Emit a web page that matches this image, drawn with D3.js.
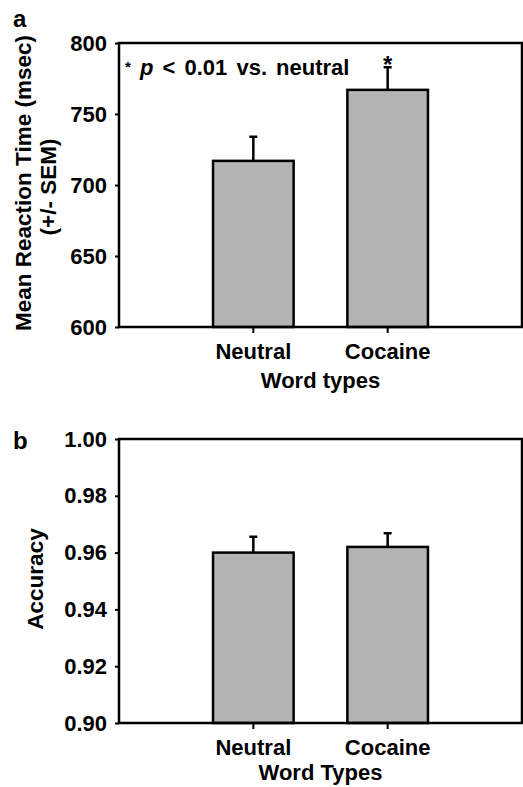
<!DOCTYPE html>
<html>
<head>
<meta charset="utf-8">
<script src="https://cdn.jsdelivr.net/npm/d3@7"></script>
<style>
  body { margin: 0; background: #fff; }
  svg text { font-family: "Liberation Sans", Arial, sans-serif; font-weight: bold; fill: #000; }
</style>
</head>
<body>
<div id="chart"></div>
<script>
// Data
const categories = ['Neutral', 'Cocaine']
const rt_means = [717, 767]
const rt_sem = [17, 16]
const rt_ticks = [600, 650, 700, 750, 800]
const acc_means = [0.960, 0.962]
const acc_sem = [0.0056, 0.0048]
const acc_ticks = [0.90, 0.92, 0.94, 0.96, 0.98, 1.00]

const W = 523
const H = 787
const bar_fill = '#b3b3b3'

let svg = d3.select('#chart')
  .append('svg')
  .attr('width', W)
  .attr('height', H)

////////////////////////////////////////////////////////////
// One bar panel
////////////////////////////////////////////////////////////

function draw_panel(cfg) {

  let left = 119, right = 522
  let x = d3.scaleBand()
    .domain(categories)
    .range([left, right])
    .paddingInner(0.4)
    .paddingOuter(0.7)

  let y = d3.scaleLinear()
    .domain(cfg.domain)
    .range([cfg.bottom, cfg.top])

  let g = svg.append('g')

  // Bars
  g.selectAll('rect.bar')
    .data(categories)
    .enter()
    .append('rect')
      .attr('class', 'bar')
      .attr('x', d => x(d))
      .attr('width', x.bandwidth())
      .attr('y', (d, i) => y(cfg.means[i]))
      .attr('height', (d, i) => cfg.bottom - y(cfg.means[i]))
      .attr('fill', bar_fill)
      .attr('stroke', '#000')
      .attr('stroke-width', 2.5)

  // Upper error bars
  let cap = 4
  g.selectAll('path.err')
    .data(categories)
    .enter()
    .append('path')
      .attr('class', 'err')
      .attr('d', (d, i) => {
        let cx = x(d) + x.bandwidth() / 2
        let y0 = y(cfg.means[i])
        let y1 = y(cfg.means[i] + cfg.sem[i])
        return `M${cx},${y0}V${y1}M${cx - cap},${y1}H${cx + cap}`
      })
      .attr('stroke', '#000')
      .attr('stroke-width', 2.5)
      .attr('fill', 'none')

  // Frame
  g.append('path')
    .attr('d', `M${left},${cfg.bottom}V${cfg.top}H${right}V${cfg.bottom}Z`)
    .attr('fill', 'none')
    .attr('stroke', '#000')
    .attr('stroke-width', 2.5)

  // Y axis
  let y_axis = g.append('g')
    .attr('transform', `translate(${left},0)`)
    .call(
      d3.axisLeft(y)
        .tickValues(cfg.ticks)
        .tickFormat(cfg.fmt)
        .tickSize(4)
        .tickPadding(8)
    )
  y_axis.select('.domain').remove()
  y_axis.selectAll('line').attr('stroke', '#000').attr('stroke-width', 2)
  y_axis.selectAll('text').style('font-size', '22px')

  // X axis
  let x_axis = g.append('g')
    .attr('transform', `translate(0,${cfg.bottom})`)
    .call(
      d3.axisBottom(x)
        .tickSize(6)
        .tickPadding(10)
    )
  x_axis.select('.domain').remove()
  x_axis.selectAll('line').attr('stroke', '#000').attr('stroke-width', 2)
  x_axis.selectAll('text').style('font-size', '22px')

  // X title, centred between the two categories
  let mid = (x(categories[0]) + x(categories[1]) + x.bandwidth()) / 2
  g.append('text')
    .attr('x', mid)
    .attr('y', cfg.bottom + cfg.x_title_gap)
    .attr('text-anchor', 'middle')
    .style('font-size', '22px')
    .text(cfg.x_title)

  // Y title lines
  cfg.y_title.forEach(line => {
    g.append('text')
      .attr('transform', `translate(${line.x},${line.cy}) rotate(-90)`)
      .attr('text-anchor', 'middle')
      .style('font-size', '22.5px')
      .text(line.text)
  })

  // Panel letter
  g.append('text')
    .attr('x', 13)
    .attr('y', cfg.letter_y)
    .style('font-size', '24px')
    .text(cfg.letter)

  return { x, y, g }
}

////////////////////////////////////////////////////////////
// Panel a: reaction time
////////////////////////////////////////////////////////////

let pa = draw_panel({
  top: 43,
  bottom: 327,
  domain: [600, 800],
  ticks: rt_ticks,
  fmt: d3.format('d'),
  means: rt_means,
  sem: rt_sem,
  x_title: 'Word types',
  x_title_gap: 61,
  y_title: [
    { text: 'Mean Reaction Time (msec)', x: 31, cy: 183 },
    { text: '(+/- SEM)', x: 56, cy: 187 }
  ],
  letter: 'a',
  letter_y: 27
})

// Significance star above cocaine
let star_x = pa.x('Cocaine') + pa.x.bandwidth() / 2
pa.g.append('text')
  .attr('x', star_x)
  .attr('y', pa.y(rt_means[1] + rt_sem[1]) + 6)
  .attr('text-anchor', 'middle')
  .style('font-size', '24px')
  .text('*')

// Note
let note = pa.g.append('text')
  .attr('x', 125)
  .attr('y', 75)
  .style('font-size', '22px')
  .style('word-spacing', '3px')
note.append('tspan').text('*').style('font-size', '15px').attr('dy', -3)
note.append('tspan').text(' p').style('font-style', 'italic').attr('dy', 3)
note.append('tspan').text(' < 0.01 vs. neutral')

////////////////////////////////////////////////////////////
// Panel b: accuracy
////////////////////////////////////////////////////////////

draw_panel({
  top: 439,
  bottom: 723,
  domain: [0.90, 1.00],
  ticks: acc_ticks,
  fmt: d3.format('.2f'),
  means: acc_means,
  sem: acc_sem,
  x_title: 'Word Types',
  x_title_gap: 57,
  y_title: [
    { text: 'Accuracy', x: 43, cy: 579 }
  ],
  letter: 'b',
  letter_y: 449
})
</script>
</body>
</html>
